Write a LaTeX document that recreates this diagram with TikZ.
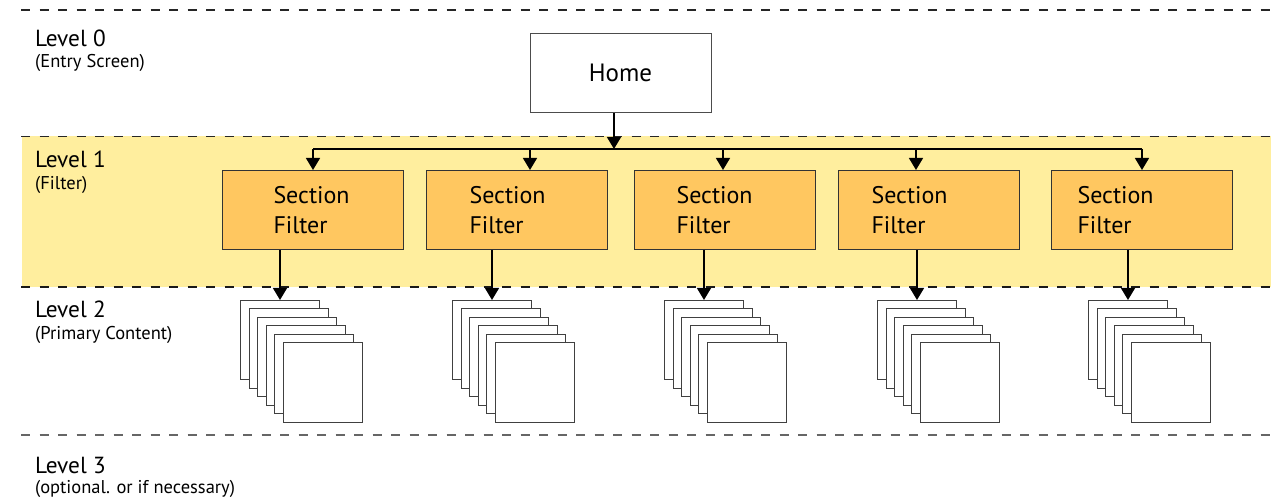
\documentclass[tikz,border=0pt]{standalone}
\usepackage{fontspec}
\setmainfont{PT Sans}
\usepackage{xcolor}
\usetikzlibrary{positioning,arrows.meta}
\definecolor{bandyellow}{HTML}{FFEE9E}
\definecolor{filterorange}{HTML}{FFC760}

\begin{document}
\begin{tikzpicture}
      [ x=1pt, y=-1pt,
        >={Triangle[width=14pt,length=12pt]},
        link/.style={->, line width=1.4pt},
        levelline/.style={dash pattern=on 9pt off 9.5pt, line width=1.2pt},
        level/.style={anchor=base west, inner sep=0pt, font=\fontsize{23.3}{27}\selectfont},
        levelnote/.style={anchor=base west, inner sep=0pt, font=\fontsize{18.5}{22}\selectfont},
        homebox/.style={draw=black!70, fill=white, line width=1pt, minimum width=181pt,
                        minimum height=79pt, font=\fontsize{25}{30}\selectfont},
        filterbox/.style={draw=black!80, fill=filterorange, line width=1pt, anchor=north west,
                          minimum width=181pt, minimum height=79pt, align=left,
                          font=\fontsize{24}{30}\selectfont},
        page/.style={draw=black!75, fill=white, line width=1pt, anchor=north west,
                     minimum size=79pt, inner sep=0pt}
      ]
      \useasboundingbox (0,0) rectangle (1271,502);

      % level bands
      \fill[bandyellow] (22,136.5) rectangle (1271,287);
      \foreach \y/\c in {10/black!85, 136.5/black!85, 287/black!90, 435/black!60}
        \draw[levelline, \c] (21,\y) -- (1271,\y);

      % level labels
      \node[level]     (lv0)     at (35,47)  {Level 0};
      \node[levelnote] (lv0note) at ([yshift=-21pt]lv0.base west) {(Entry Screen)};
      \node[level]     (lv1)     at (35,168) {Level 1};
      \node[levelnote] (lv1note) at ([yshift=-22pt]lv1.base west) {(Filter)};
      \node[level]     (lv2)     at (35,318) {Level 2};
      \node[levelnote] (lv2note) at ([yshift=-22pt]lv2.base west) {(Primary Content)};
      \node[level]     (lv3)     at (35,473) {Level 3};
      \node[levelnote] (lv3note) at ([yshift=-20pt]lv3.base west) {(optional. or if necessary)};

      % home
      \node[homebox] (home) at (620.5,73.5) {\raisebox{1.5pt}{Home}};
      \coordinate (bus) at (614,149);
      \draw[link] (home.south -| bus) -- (bus);

      % section filters and their pages
      \foreach \i/\bx/\tx/\ax/\px in {1/222/51/313/240, 2/426/43/530/452, 3/634/42/723/664,
                                      4/838/33/916/877, 5/1051/26/1142/1088}
      {
        \pgfmathsetmacro\tw{181-2*\tx}
        \node[filterbox, inner xsep=\tx pt, text width=\tw pt] (sf\i) at (\bx,170) {Section\\Filter};
        \coordinate (drop\i) at (\ax,170);
        \draw[link] (bus -| drop\i) -- (drop\i);
        \foreach \k in {0,...,5}
          \node[page] (pg\i-\k) at (\px+\k*8.5, 300+\k*8.5) {};
        \draw[link] (sf\i.south -| pg\i-0.north) -- (pg\i-0.north);
      }
      \draw[line width=1.4pt] (bus -| drop1) -- (bus -| drop5);
    \end{tikzpicture}
\end{document}
